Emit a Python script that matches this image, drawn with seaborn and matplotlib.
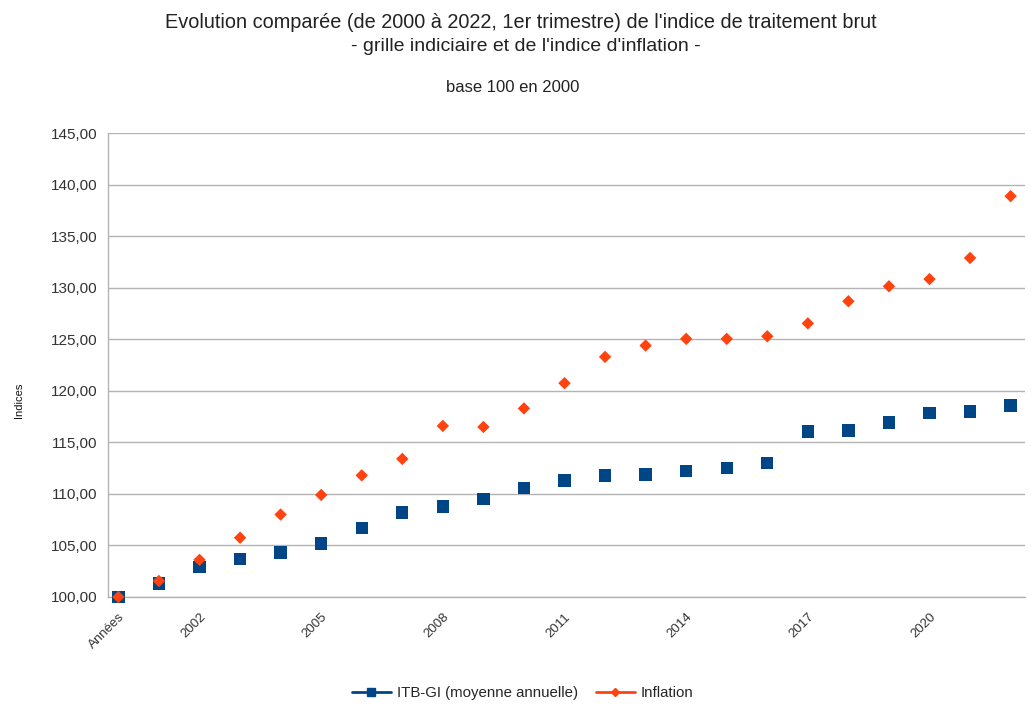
import matplotlib
matplotlib.use('Agg')
import matplotlib.pyplot as plt
import seaborn as sns
import pandas as pd
from matplotlib.lines import Line2D
from matplotlib.ticker import MultipleLocator, FuncFormatter

years = list(range(2000, 2023))
itb_gi = [100.0, 101.3, 102.9, 103.7, 104.3, 105.2, 106.7, 108.2, 108.8, 109.5,
          110.55, 111.3, 111.8, 111.9, 112.2, 112.5, 113.0, 116.05, 116.15,
          116.95, 117.85, 118.0, 118.6]
inflation = [100.0, 101.55, 103.6, 105.75, 108.0, 109.9, 111.8, 113.4, 116.6,
             116.5, 118.3, 120.75, 123.3, 124.4, 125.05, 125.05, 125.3, 126.55,
             128.7, 130.15, 130.85, 132.9, 138.9]
tick_years = [2000, 2002, 2005, 2008, 2011, 2014, 2017, 2020]
tick_labels = ['Années', '2002', '2005', '2008', '2011', '2014', '2017', '2020']

df = pd.DataFrame({'annee': years, 'itb': itb_gi, 'infl': inflation})

sns.set_style('white')
plt.rcParams['font.family'] = ['Liberation Sans', 'DejaVu Sans']

blue = '#004586'
orange = '#ff420e'

fig = plt.figure(figsize=(10.31, 7.09), dpi=100)
ax = fig.add_axes([0.105, 0.158, 0.889, 0.654])

sns.scatterplot(data=df, x='annee', y='itb', ax=ax, marker='s', s=80,
                color=blue, edgecolor='none', clip_on=False, zorder=3)
sns.scatterplot(data=df, x='annee', y='infl', ax=ax, marker='D', s=40,
                color=orange, edgecolor='none', clip_on=False, zorder=4)

ax.set_xlim(1999.75, 2022.35)
ax.set_ylim(100, 145)
ax.yaxis.set_major_locator(MultipleLocator(5))
ax.yaxis.set_major_formatter(FuncFormatter(lambda v, p: f'{v:.2f}'.replace('.', ',')))
ax.grid(axis='y', color='#b3b3b3', linewidth=1)
ax.set_axisbelow(True)

ax.set_xticks(tick_years)
ax.set_xticklabels(tick_labels, rotation=45, ha='right', rotation_mode='anchor',
                   fontsize=9.5, color='#333333')
ax.xaxis.set_minor_locator(MultipleLocator(0.25))
ax.tick_params(axis='x', which='major', direction='inout', length=8, width=1,
               color='#b3b3b3', pad=6)
ax.tick_params(axis='x', which='minor', direction='inout', length=5, width=1,
               color='#b3b3b3')
ax.tick_params(axis='y', which='major', direction='out', length=5, width=1,
               color='#b3b3b3', labelsize=11, labelcolor='#333333', pad=3)

for side in ['top', 'right']:
    ax.spines[side].set_visible(False)
for side in ['left', 'bottom']:
    ax.spines[side].set_color('#b3b3b3')
    ax.spines[side].set_linewidth(1)

ax.set_xlabel('')
ax.set_ylabel('')
fig.text(0.018, 0.436, 'Indices', rotation=90, ha='center', va='center',
         fontsize=8, color='#111111')

fig.text(0.505, 0.968, "Evolution comparée (de 2000 à 2022, 1er trimestre) de l'indice de traitement brut",
         ha='center', va='center', fontsize=14.3, color='#222222')
fig.text(0.51, 0.934, "- grille indiciaire et de l'indice d'inflation -",
         ha='center', va='center', fontsize=14, color='#222222')
fig.text(0.497, 0.877, 'base 100 en 2000', ha='center', va='center',
         fontsize=12, color='#222222')

handles = [Line2D([0], [0], color=blue, marker='s', markersize=6, linewidth=2),
           Line2D([0], [0], color=orange, marker='D', markersize=4.5, linewidth=2)]
fig.legend(handles, ['ITB-GI (moyenne annuelle)', 'Inflation'], loc='center',
           bbox_to_anchor=(0.507, 0.022), ncol=2, frameon=False, fontsize=10.8,
           handlelength=2.6, columnspacing=1.2, handletextpad=0.4)

fig.savefig('out.png', dpi=100)
